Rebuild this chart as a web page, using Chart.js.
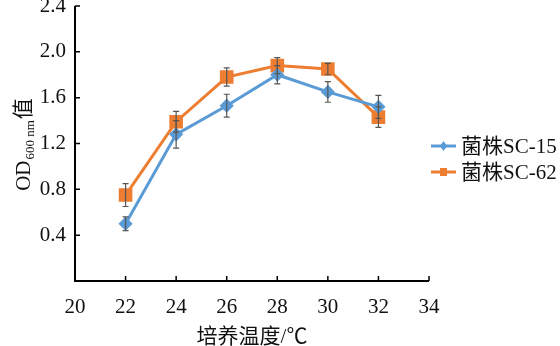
<!DOCTYPE html>
<html>
<head>
<meta charset="utf-8">
<script src="https://cdn.jsdelivr.net/npm/chart.js@4/dist/chart.umd.min.js"></script>
<style>
  html, body { margin: 0; padding: 0; background: #fff; }
  #wrap { width: 560px; height: 346px; }
</style>
</head>
<body>
<div id="wrap"><canvas id="odChart"></canvas></div>
<script>
const temps = [22, 24, 26, 28, 30, 32];
const sc15 = [0.50, 1.28, 1.53, 1.80, 1.65, 1.52];
const sc15Err = [0.06, 0.12, 0.10, 0.08, 0.09, 0.10];
const sc62 = [0.75, 1.39, 1.78, 1.88, 1.85, 1.43];
const sc62Err = [0.10, 0.09, 0.08, 0.07, 0.05, 0.09];
const seriesNames = ['菌株SC-15', '菌株SC-62'];
const xTicks = [20, 22, 24, 26, 28, 30, 32, 34];
const yTicks = [0.4, 0.8, 1.2, 1.6, 2.0, 2.4];

const BLUE = '#5b9bd5';
const ORANGE = '#ed7d31';
const SERIF = '"Liberation Serif", "Times New Roman", serif';
const CJK = '"Liberation Serif", "Noto Sans CJK SC", serif';

const toPts = (ys) => ys.map((y, i) => ({ x: temps[i], y: y }));

// error bars, inward ticks, y title and legend
const extras = {
    id: 'extras',
    afterDatasetsDraw(chart) {
        const ctx = chart.ctx;
        const xs = chart.scales.x;
        const ys = chart.scales.y;
        const area = chart.chartArea;

        ctx.save();
        ctx.strokeStyle = '#555';
        ctx.lineWidth = 1.2;
        [[sc15, sc15Err], [sc62, sc62Err]].forEach(([vals, errs]) => {
            vals.forEach((v, i) => {
                const px = xs.getPixelForValue(temps[i]);
                const top = ys.getPixelForValue(v + errs[i]);
                const bot = ys.getPixelForValue(v - errs[i]);
                ctx.beginPath();
                ctx.moveTo(px, top); ctx.lineTo(px, bot);
                ctx.moveTo(px - 3, top); ctx.lineTo(px + 3, top);
                ctx.moveTo(px - 3, bot); ctx.lineTo(px + 3, bot);
                ctx.stroke();
            });
        });
        ctx.restore();

        // axes with inward ticks
        ctx.save();
        ctx.strokeStyle = '#000';
        ctx.lineWidth = 2;
        ctx.beginPath();
        ctx.moveTo(area.left, area.top);
        ctx.lineTo(area.left, area.bottom);
        ctx.lineTo(area.right, area.bottom);
        ctx.stroke();
        ctx.lineWidth = 1.5;
        ctx.beginPath();
        yTicks.forEach(v => {
            const py = ys.getPixelForValue(v);
            ctx.moveTo(area.left, py); ctx.lineTo(area.left + 5, py);
        });
        xTicks.forEach(v => {
            const px = xs.getPixelForValue(v);
            ctx.moveTo(px, area.bottom); ctx.lineTo(px, area.bottom - 5);
        });
        ctx.stroke();
        ctx.restore();

        // y axis title with subscript
        ctx.save();
        ctx.translate(22, 144);
        ctx.rotate(-Math.PI / 2);
        ctx.fillStyle = '#111';
        ctx.textBaseline = 'alphabetic';
        const parts = [
            { t: 'OD', f: '21px ' + SERIF, dy: 0 },
            { t: '600 nm', f: '13px ' + SERIF, dy: 4 },
            { t: '值', f: '21px "Noto Sans CJK SC"', dy: 0 },
        ];
        let total = 0;
        parts.forEach(p => { ctx.font = p.f; total += ctx.measureText(p.t).width + 1; });
        let cx = -total / 2;
        parts.forEach(p => {
            ctx.font = p.f;
            ctx.fillText(p.t, cx, 8 + p.dy);
            cx += ctx.measureText(p.t).width + 1;
        });
        ctx.restore();

        // legend
        ctx.save();
        const items = [
            { name: seriesNames[0], color: BLUE, y: 146, style: 'diamond' },
            { name: seriesNames[1], color: ORANGE, y: 172, style: 'square' },
        ];
        items.forEach(it => {
            ctx.strokeStyle = it.color;
            ctx.fillStyle = it.color;
            ctx.lineWidth = 3;
            ctx.beginPath();
            ctx.moveTo(431, it.y); ctx.lineTo(456, it.y);
            ctx.stroke();
            ctx.beginPath();
            if (it.style === 'diamond') {
                ctx.moveTo(443.5, it.y - 5); ctx.lineTo(447, it.y);
                ctx.lineTo(443.5, it.y + 5); ctx.lineTo(440, it.y);
                ctx.closePath();
            } else {
                ctx.rect(440, it.y - 4, 7, 8);
            }
            ctx.fill();
            ctx.fillStyle = '#111';
            ctx.font = '21px ' + CJK;
            ctx.textBaseline = 'middle';
            ctx.fillText(it.name, 461, it.y + 1);
        });
        ctx.restore();
    },
};

new Chart(document.getElementById('odChart'), {
    type: 'line',
    data: {
        datasets: [
            {
                label: seriesNames[0],
                data: toPts(sc15),
                borderColor: BLUE,
                backgroundColor: BLUE,
                borderWidth: 3,
                pointStyle: 'rectRot',
                pointRadius: 5,
                tension: 0,
            },
            {
                label: seriesNames[1],
                data: toPts(sc62),
                borderColor: ORANGE,
                backgroundColor: ORANGE,
                borderWidth: 3,
                pointStyle: 'rect',
                pointRadius: 7.5,
                tension: 0,
            },
        ],
    },
    options: {
        responsive: true,
        maintainAspectRatio: false,
        animation: false,
        layout: {
            autoPadding: false,
            padding: { left: 0, right: 131, top: 6, bottom: 0 },
        },
        plugins: {
            legend: { display: false },
            tooltip: { enabled: false },
        },
        scales: {
            x: {
                type: 'linear',
                min: 20,
                max: 34,
                afterFit: (s) => { s.height = 65; s.paddingLeft = 0; s.paddingRight = 0; },
                afterBuildTicks: (s) => { s.ticks = xTicks.map(v => ({ value: v })); },
                grid: { display: false, drawTicks: false },
                border: { display: false },
                ticks: {
                    padding: 14,
                    color: '#111',
                    font: { family: SERIF, size: 21 },
                },
                title: {
                    display: true,
                    text: '培养温度/℃',
                    color: '#111',
                    font: { family: CJK, size: 21 },
                    padding: { top: 0, bottom: -4 },
                },
            },
            y: {
                min: 0,
                max: 2.4,
                afterFit: (s) => { s.width = 75; s.paddingTop = 0; s.paddingBottom = 0; },
                afterBuildTicks: (s) => { s.ticks = yTicks.map(v => ({ value: v })); },
                grid: { display: false, drawTicks: false },
                border: { display: false },
                ticks: {
                    padding: 9,
                    color: '#111',
                    font: { family: SERIF, size: 21, lineHeight: 0.5 },
                    callback: (v) => Number(v).toFixed(1),
                },
            },
        },
    },
    plugins: [extras],
});
</script>
</body>
</html>
